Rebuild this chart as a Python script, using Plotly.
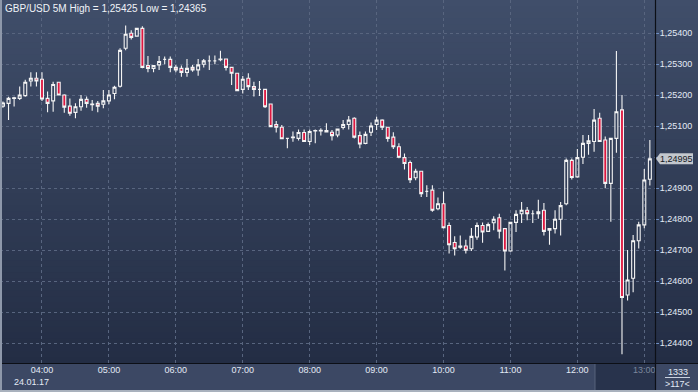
import plotly.graph_objects as go
import pandas as pd

# ---------------- data ----------------
times = pd.date_range("2017-01-24 03:25", periods=117, freq="5min")

open_ = [1.25165, 1.25174, 1.25190, 1.25190, 1.25199, 1.25246, 1.25255, 1.25252, 1.25190, 1.25182,
         1.25242, 1.25201, 1.25165, 1.25145, 1.25163, 1.25187, 1.25170, 1.25174, 1.25171, 1.25182,
         1.25206, 1.25229, 1.25352, 1.25400, 1.25391, 1.25416, 1.25296, 1.25287, 1.25298, 1.25316,
         1.25316, 1.25290, 1.25287, 1.25274, 1.25290, 1.25282, 1.25300, 1.25311, 1.25311, 1.25315,
         1.25317, 1.25290, 1.25271, 1.25219, 1.25255, 1.25228, 1.25219, 1.25219, 1.25172, 1.25106,
         1.25097, 1.25061, 1.25063, 1.25061, 1.25080, 1.25051, 1.25085, 1.25085, 1.25082, 1.25081,
         1.25072, 1.25096, 1.25106, 1.25126, 1.25070, 1.25045, 1.25081, 1.25106, 1.25120, 1.25097,
         1.25065, 1.25034, 1.24999, 1.24983, 1.24934, 1.24955, 1.24890, 1.24894, 1.24834, 1.24850,
         1.24780, 1.24725, 1.24710, 1.24714, 1.24705, 1.24743, 1.24780, 1.24761, 1.24789, 1.24805,
         1.24770, 1.24698, 1.24790, 1.24818, 1.24829, 1.24818, 1.24818, 1.24829, 1.24765, 1.24770,
         1.24800, 1.24850, 1.24990, 1.24937, 1.25000, 1.25045, 1.25051, 1.25126, 1.25056, 1.24916,
         1.25061, 1.25153, 1.24556, 1.24610, 1.24731, 1.24782, 1.24929]

high = [1.25180, 1.25195, 1.25195, 1.25228, 1.25250, 1.25274, 1.25274, 1.25274, 1.25212, 1.25244,
        1.25244, 1.25203, 1.25190, 1.25174, 1.25201, 1.25196, 1.25185, 1.25182, 1.25217, 1.25217,
        1.25231, 1.25352, 1.25425, 1.25410, 1.25418, 1.25423, 1.25327, 1.25296, 1.25327, 1.25325,
        1.25325, 1.25298, 1.25296, 1.25317, 1.25298, 1.25317, 1.25317, 1.25328, 1.25328, 1.25344,
        1.25317, 1.25290, 1.25271, 1.25262, 1.25271, 1.25244, 1.25246, 1.25219, 1.25172, 1.25117,
        1.25104, 1.25062, 1.25083, 1.25090, 1.25090, 1.25090, 1.25090, 1.25094, 1.25110, 1.25088,
        1.25091, 1.25120, 1.25133, 1.25129, 1.25083, 1.25083, 1.25112, 1.25131, 1.25123, 1.25097,
        1.25081, 1.25045, 1.25012, 1.24990, 1.24963, 1.24955, 1.24910, 1.24910, 1.24870, 1.24890,
        1.24790, 1.24745, 1.24748, 1.24734, 1.24772, 1.24790, 1.24790, 1.24790, 1.24810, 1.24818,
        1.24770, 1.24790, 1.24829, 1.24856, 1.24840, 1.24829, 1.24863, 1.24853, 1.24770, 1.24829,
        1.24856, 1.24996, 1.24996, 1.25027, 1.25072, 1.25072, 1.25156, 1.25144, 1.25067, 1.25061,
        1.25343, 1.25201, 1.24701, 1.24749, 1.24792, 1.24962, 1.25056]

low = [1.25160, 1.25120, 1.25164, 1.25185, 1.25195, 1.25228, 1.25228, 1.25182, 1.25145, 1.25147,
       1.25199, 1.25144, 1.25134, 1.25126, 1.25150, 1.25160, 1.25150, 1.25145, 1.25158, 1.25171,
       1.25187, 1.25225, 1.25345, 1.25380, 1.25390, 1.25287, 1.25274, 1.25274, 1.25282, 1.25300,
       1.25274, 1.25274, 1.25260, 1.25260, 1.25276, 1.25263, 1.25290, 1.25282, 1.25300, 1.25310,
       1.25280, 1.25233, 1.25213, 1.25206, 1.25217, 1.25196, 1.25198, 1.25159, 1.25099, 1.25080,
       1.25059, 1.25029, 1.25050, 1.25054, 1.25049, 1.25040, 1.25045, 1.25070, 1.25080, 1.25054,
       1.25065, 1.25090, 1.25090, 1.25061, 1.25029, 1.25042, 1.25069, 1.25088, 1.25088, 1.25050,
       1.25027, 1.24997, 1.24961, 1.24917, 1.24926, 1.24872, 1.24872, 1.24824, 1.24829, 1.24770,
       1.24690, 1.24683, 1.24705, 1.24690, 1.24698, 1.24734, 1.24724, 1.24759, 1.24765, 1.24738,
       1.24635, 1.24695, 1.24759, 1.24788, 1.24797, 1.24788, 1.24802, 1.24748, 1.24718, 1.24754,
       1.24748, 1.24845, 1.24928, 1.24934, 1.24978, 1.25008, 1.25018, 1.25051, 1.24900, 1.24792,
       1.25015, 1.24365, 1.24538, 1.24565, 1.24706, 1.24771, 1.24909]

close = [1.25175, 1.25190, 1.25192, 1.25201, 1.25242, 1.25255, 1.25246, 1.25188, 1.25174, 1.25235,
         1.25201, 1.25162, 1.25142, 1.25163, 1.25187, 1.25174, 1.25172, 1.25165, 1.25182, 1.25201,
         1.25226, 1.25345, 1.25397, 1.25387, 1.25416, 1.25290, 1.25287, 1.25296, 1.25309, 1.25316,
         1.25290, 1.25282, 1.25274, 1.25287, 1.25282, 1.25298, 1.25311, 1.25311, 1.25311, 1.25317,
         1.25290, 1.25271, 1.25215, 1.25252, 1.25228, 1.25219, 1.25219, 1.25163, 1.25099, 1.25097,
         1.25060, 1.25061, 1.25065, 1.25080, 1.25051, 1.25083, 1.25086, 1.25087, 1.25086, 1.25070,
         1.25091, 1.25106, 1.25120, 1.25065, 1.25043, 1.25074, 1.25101, 1.25120, 1.25097, 1.25061,
         1.25034, 1.25000, 1.24980, 1.24928, 1.24955, 1.24883, 1.24890, 1.24829, 1.24850, 1.24773,
         1.24718, 1.24705, 1.24714, 1.24700, 1.24745, 1.24780, 1.24759, 1.24783, 1.24800, 1.24762,
         1.24698, 1.24790, 1.24816, 1.24829, 1.24818, 1.24818, 1.24824, 1.24761, 1.24770, 1.24800,
         1.24844, 1.24990, 1.24935, 1.24999, 1.25045, 1.25053, 1.25120, 1.25051, 1.24916, 1.25061,
         1.25147, 1.24548, 1.24604, 1.24731, 1.24782, 1.24927, 1.24995]

hour_ticks = ["2017-01-24 04:00", "2017-01-24 05:00", "2017-01-24 06:00", "2017-01-24 07:00",
              "2017-01-24 08:00", "2017-01-24 09:00", "2017-01-24 10:00", "2017-01-24 11:00",
              "2017-01-24 12:00", "2017-01-24 13:00"]
hour_labels = ["04:00", "05:00", "06:00", "07:00", "08:00", "09:00", "10:00", "11:00", "12:00", "13:00"]
price_ticks = [1.244, 1.245, 1.246, 1.247, 1.248, 1.249, 1.250, 1.251, 1.252, 1.253, 1.254]

symbol = "GBP/USD 5M"
date_label = "24.01.17"
bars_total = "1333"

# ---------------- layout helpers ----------------
W, H = 698, 392
ML, MR, MT, MB = 0, 43, 0, 29
PW, PH = W - ML - MR, H - MT - MB


def fx(px):
    return (px - ML) / PW


def fy(py):
    return (MT + PH - py) / PH


def fmt(v):
    return f"{v:.5f}".replace(".", ",")


FONT = "Liberation Sans, Arial, sans-serif"
TXT = "#e3eaf5"
NUM = 9

fig = go.Figure()
fig.add_trace(go.Candlestick(
    x=times, open=open_, high=high, low=low, close=close,
    increasing=dict(line=dict(color="#f4f4f4", width=1.1), fillcolor="rgba(0,0,0,0)"),
    decreasing=dict(line=dict(color="#f4f4f4", width=1.1), fillcolor="#de1740"),
    whiskerwidth=0, showlegend=False, hoverinfo="skip",
))

shapes = []
# background gradient
n = 60
top = (64, 78, 106)
bot = (35, 45, 68)
for k in range(n):
    t = (k + 0.5) / n
    c = tuple(int(round(top[j] + (bot[j] - top[j]) * t)) for j in range(3))
    shapes.append(dict(type="rect", xref="paper", yref="paper", x0=fx(0), x1=fx(W),
                       y0=1 - k / n, y1=1 - (k + 1) / n - 0.002, line=dict(width=0),
                       fillcolor="rgb(%d,%d,%d)" % c, layer="below"))
# shaded future region in bottom axis
shapes.append(dict(type="rect", xref="paper", yref="paper", x0=fx(595), x1=fx(655.5),
                   y0=fy(390), y1=fy(363), line=dict(width=0), fillcolor="#28334c", layer="below"))
shapes.append(dict(type="line", xref="paper", yref="paper", x0=fx(595), x1=fx(595),
                   y0=fy(390), y1=fy(363), line=dict(color="#56627b", width=1), layer="below"))
# axis black lines
shapes.append(dict(type="line", xref="paper", yref="paper", x0=fx(0), x1=fx(W),
                   y0=fy(363.5), y1=fy(363.5), line=dict(color="#0c0f16", width=1.2)))
shapes.append(dict(type="line", xref="paper", yref="paper", x0=fx(655.5), x1=fx(655.5),
                   y0=fy(392), y1=fy(0), line=dict(color="#0c0f16", width=1.2)))
# window frame
shapes.append(dict(type="rect", xref="paper", yref="paper", x0=fx(0), x1=fx(2),
                   y0=fy(392), y1=fy(0), line=dict(width=0), fillcolor="#8e98aa"))
shapes.append(dict(type="rect", xref="paper", yref="paper", x0=fx(0), x1=fx(W),
                   y0=fy(392), y1=fy(390), line=dict(width=0), fillcolor="#a9b1bd"))
# separator in bottom-right box
shapes.append(dict(type="line", xref="paper", yref="paper", x0=fx(665), x1=fx(690),
                   y0=fy(377.5), y1=fy(377.5), line=dict(color="#c9d2e0", width=1)))
# current price marker
shapes.append(dict(type="path", xref="paper", yref="y", xsizemode="pixel", ysizemode="pixel",
                   xanchor=1, yanchor=close[-1],
                   path="M 1 0 L 5 5.5 L 38 5.5 L 38 -5.5 L 5 -5.5 Z",
                   fillcolor="#c3c7cd", line=dict(width=0)))

annotations = [
    dict(text=f"{symbol} High = {fmt(max(high))} Low = {fmt(min(low))}", xref="paper", yref="paper",
         x=fx(3), y=fy(8), xanchor="left", yanchor="middle", showarrow=False,
         font=dict(family=FONT, size=10, color="#f0f3f8")),
    dict(text=date_label, xref="paper", yref="paper", x=fx(12), y=fy(382), xanchor="left",
         yanchor="middle", showarrow=False, font=dict(family=FONT, size=NUM, color=TXT)),
    dict(text=bars_total, xref="paper", yref="paper", x=fx(677.5), y=fy(371.5), xanchor="center",
         yanchor="middle", showarrow=False, font=dict(family=FONT, size=NUM, color=TXT)),
    dict(text=f"&gt;{len(times)}&lt;", xref="paper", yref="paper", x=fx(677), y=fy(384),
         xanchor="center", yanchor="middle", showarrow=False,
         font=dict(family=FONT, size=NUM, color=TXT)),
    dict(text=fmt(close[-1]), xref="paper", yref="y", x=1, y=close[-1], xshift=3,
         xanchor="left", yanchor="middle", showarrow=False,
         font=dict(family=FONT, size=NUM, color="#15181e")),
]

xtext = [lbl if i < len(hour_labels) - 1 else f"<span style='color:#7c879c'>{lbl}</span>"
         for i, lbl in enumerate(hour_labels)]
ytext = ["" if abs(v - 1.25) < 1e-9 else fmt(v) for v in price_ticks]

fig.update_layout(
    width=W, height=H,
    margin=dict(l=ML, r=MR, t=MT, b=MB, pad=0),
    paper_bgcolor="#3c4864", plot_bgcolor="rgba(0,0,0,0)",
    shapes=shapes, annotations=annotations, showlegend=False,
    boxgap=0.25,
    xaxis=dict(
        type="date", range=["2017-01-24 03:22:21", "2017-01-24 13:09:36"],
        rangeslider=dict(visible=False),
        tickvals=hour_ticks, ticktext=xtext, ticks="",
        showgrid=True, gridcolor="#58657f", gridwidth=1, griddash="3px,3px",
        zeroline=False, showline=False,
        tickfont=dict(family=FONT, size=NUM, color=TXT),
    ),
    yaxis=dict(
        side="right", range=[1.243365, 1.255074],
        tickvals=price_ticks, ticktext=ytext,
        ticks="outside", ticklen=3, tickcolor="#6e8fc4", tickwidth=1,
        ticklabelstandoff=-1,
        showgrid=True, gridcolor="#58657f", gridwidth=1, griddash="3px,3px",
        zeroline=False, showline=False,
        tickfont=dict(family=FONT, size=NUM, color=TXT),
    ),
)

fig.write_html("out.html")
